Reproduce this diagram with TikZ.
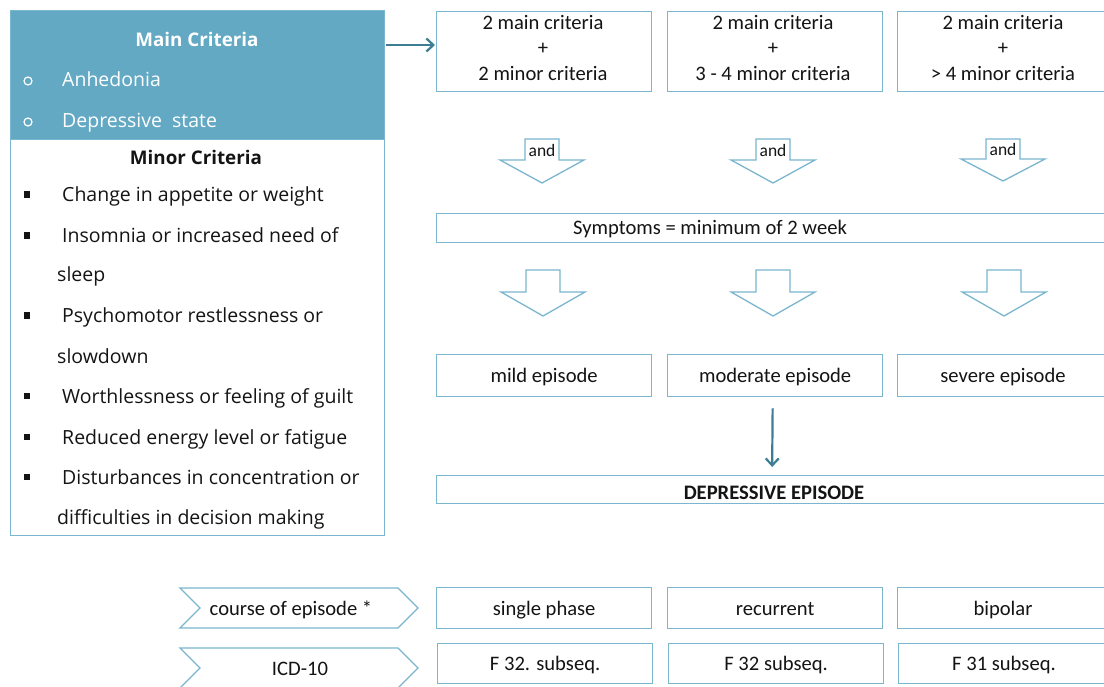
\documentclass[tikz,border=0pt]{standalone}
\usepackage{fontspec}
\setmainfont{Carlito}
\newfontfamily\listfont{Open Sans}
\usetikzlibrary{arrows.meta}

\definecolor{hdrblue}{RGB}{99,169,196}
\definecolor{edgeblue}{RGB}{122,182,206}
\definecolor{darkteal}{RGB}{62,126,148}
\definecolor{inktext}{RGB}{20,20,20}

% hollow block arrow pointing down: centre x, top y, shoulder y, tip y
\newcommand\hollowdown[4]{%
  \draw[arrowedge] (#1-17,#2) -- (#1+17,#2) -- (#1+17,#3) -- (#1+42,#3)
    -- (#1,#4) -- (#1-42,#3) -- (#1-17,#3) -- cycle;}

\begin{document}
\begin{tikzpicture}[x=1pt,y=-1pt,
  box/.style={draw=edgeblue, line width=1.3pt, anchor=north west, inner sep=0pt},
  arrowedge/.style={draw=edgeblue, line width=1.3pt, line join=miter},
  conn/.style={draw=darkteal, line width=2.2pt, -{Straight Barb[length=7pt,width=13pt,line width=2.2pt]}},
  rtext/.style={font=\fontsize{20.6}{24}\selectfont, text=inktext, anchor=base, inner sep=0pt},
  andtext/.style={font=\fontsize{17.5}{20}\selectfont, text=inktext, anchor=base, inner sep=0pt},
  ltext/.style={font=\listfont\fontsize{19.5}{22}\selectfont, text=inktext, anchor=base west, inner sep=0pt},
  htext/.style={font=\listfont\fontsize{19.5}{22}\selectfont, text=white, anchor=base west, inner sep=0pt},
  headfont/.style={font=\listfont\bfseries\fontsize{18.8}{22}\selectfont},
  sqbullet/.style={fill=inktext},
]
\useasboundingbox (0,0) rectangle (1104,687);
\fill[white] (0,0) rectangle (1104,687);

% ---------- criteria panel ----------
\node[box, fill=hdrblue, minimum width=374pt, minimum height=129pt] (mainhdr) at (10,10) {};
\node[box, minimum width=374pt, minimum height=396pt] (minorbox) at (10,139) {};

\node[htext, anchor=base, headfont] (maint) at (197,47) {Main Criteria};
\draw[white, line width=1.2pt] (28,81) circle (4);
\node[htext] (anh) at (62,87) {Anhedonia};
\draw[white, line width=1.2pt] (28,122) circle (4);
\node[htext] (dep) at (62,128) {Depressive\ \ state};

\node[ltext, anchor=base, headfont] (minort) at (196,165) {Minor Criteria};

\foreach \yy in {195,236,316,396,437,477}
  \fill[sqbullet] (23.5,\yy-3.5) rectangle (30,\yy+3);
\node[ltext] (m1) at (62,202) {Change in appetite or weight};
\node[ltext] (m2) at (62,243) {Insomnia or increased need of};
\node[ltext] (m2b) at (57,282) {sleep};
\node[ltext] (m3) at (62,323) {Psychomotor restlessness or};
\node[ltext] (m3b) at (57,363) {slowdown};
\node[ltext] (m4) at (62,403) {Worthlessness or feeling of guilt};
\node[ltext] (m5) at (62,444) {Reduced energy level or fatigue};
\node[ltext] (m6) at (62,484) {Disturbances in concentration or};
\node[ltext] (m6b) at (57,524) {difficulties in decision making};

% ---------- severity columns ----------
\node[box, minimum width=215pt, minimum height=80pt] (top1) at (436,11) {};
\node[box, minimum width=215pt, minimum height=80pt] (top2) at (667,11) {};
\node[box, minimum width=215pt, minimum height=80pt] (top3) at (897,11) {};

\foreach \cx/\lbl in {543/2 minor criteria, 773/3 - 4 minor criteria, 1003/> 4 minor criteria}{
  \node[rtext] at (\cx,30) {2 main criteria};
  \node[rtext] at (\cx,55) {+};
  \node[rtext] at (\cx,81) {\lbl};
}

\coordinate (arrowrow) at (0,45);
\draw[conn] (mainhdr.east |- arrowrow) ++(1,0) -- ([xshift=-1pt]top1.west |- arrowrow);

% "and" block arrows
\hollowdown{542}{139}{160}{183}
\hollowdown{773}{139}{160}{183}
\hollowdown{1003}{139}{159}{181}
\node[andtext] (and1) at (542,157) {and};
\node[andtext] (and2) at (773,157) {and};
\node[andtext] (and3) at (1003,156) {and};

\node[box, minimum width=676pt, minimum height=29pt] (dur) at (436,213) {};
\node[rtext] (durt) at (710,235) {Symptoms = minimum of 2 week};

\hollowdown{543}{270}{292}{316}
\hollowdown{773}{270}{292}{316}
\hollowdown{1004}{270}{292}{316}

\node[box, minimum width=215pt, minimum height=42pt] (mild) at (436,354) {};
\node[box, minimum width=215pt, minimum height=42pt] (moderate) at (667,354) {};
\node[box, minimum width=215pt, minimum height=42pt] (severe) at (897,354) {};
\node[rtext] at (mild.center |- 0,382) {mild episode};
\node[rtext] at (moderate.center |- 0,382) {moderate episode};
\node[rtext] at (1003,382) {severe episode};

\node[box, minimum width=676pt, minimum height=28pt] (episode) at (436,475) {};
\node[rtext, font=\bfseries\fontsize{20.6}{24}\selectfont] (episodet) at (774,499) {DEPRESSIVE EPISODE};

\draw[conn] ([xshift=-2.5pt,yshift=-11pt]moderate.south) -- ([xshift=-2.5pt,yshift=8pt]episode.north);

% ---------- course and classification ----------
\draw[arrowedge] (180,588) -- (398,588) -- (418,608) -- (398,628) -- (180,628) -- (200,608) -- cycle;
\draw[arrowedge] (180,648) -- (398,648) -- (418,668) -- (398,688) -- (180,688) -- (200,668) -- cycle;
\node[rtext] (course) at (291,615) {course of episode *};
\node[rtext] (icd) at (300,675) {ICD-10};

\node[box, minimum width=215pt, minimum height=41pt] (single) at (436,587) {};
\node[box, minimum width=215pt, minimum height=41pt] (recur) at (667,587) {};
\node[box, minimum width=215pt, minimum height=41pt] (bipol) at (897,587) {};
\node[rtext] at (single.center |- 0,615) {single phase};
\node[rtext] at (recur.center |- 0,615) {recurrent};
\node[rtext] at (1003,615) {bipolar};

\node[box, minimum width=215pt, minimum height=40pt] (f32a) at (437,643) {};
\node[box, minimum width=215pt, minimum height=40pt] (f32b) at (668,643) {};
\node[box, minimum width=215pt, minimum height=40pt] (f31) at (898,643) {};
\node[rtext] at (f32a.center |- 0,670) {F 32. subseq.};
\node[rtext] at (f32b.center |- 0,670) {F 32 subseq.};
\node[rtext] at (1004,670) {F 31 subseq.};
\end{tikzpicture}
\end{document}
